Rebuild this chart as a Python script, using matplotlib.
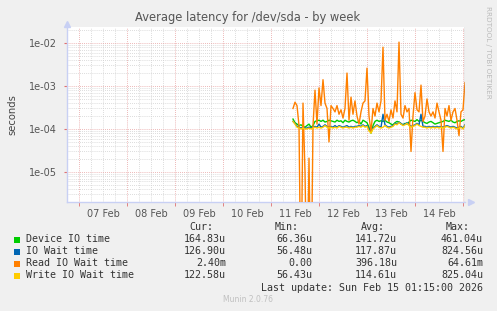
import numpy as np
import matplotlib
matplotlib.use("Agg")
from matplotlib import pyplot as plt
from matplotlib.ticker import FixedLocator, FuncFormatter, NullLocator

# hours since 07 Feb 00:00, one sample per hour (11 Feb 11:00 .. 15 Feb 01:00)
hours = np.arange(107, 194)

device_io = [
    1.7e-4, 1.4e-4, 1.3e-4, 1.2e-4, 1.25e-4, 1.15e-4, 1.1e-4, 1.2e-4, 1.3e-4, 1.1e-4,
    1.2e-4, 1.5e-4, 1.55e-4, 1.6e-4, 1.5e-4, 1.6e-4, 1.45e-4, 1.5e-4, 1.6e-4, 1.55e-4,
    1.5e-4, 1.45e-4, 1.6e-4, 1.5e-4, 1.55e-4, 1.4e-4, 1.6e-4, 1.5e-4, 1.45e-4, 1.55e-4,
    1.6e-4, 1.5e-4, 1.4e-4, 1.5e-4, 1.3e-4, 1.6e-4, 1.5e-4, 1.4e-4, 1.1e-4, 8e-5,
    1.2e-4, 1.5e-4, 1.6e-4, 1.5e-4, 1.55e-4, 1.5e-4, 1.6e-4, 1.45e-4, 1.4e-4, 1.3e-4,
    1.25e-4, 1.4e-4, 1.5e-4, 1.45e-4, 1.3e-4, 1.25e-4, 1.35e-4, 1.3e-4, 1.45e-4, 1.6e-4,
    1.55e-4, 1.5e-4, 1.65e-4, 1.5e-4, 1.6e-4, 1.5e-4, 1.4e-4, 1.35e-4, 1.45e-4, 1.5e-4,
    1.4e-4, 1.3e-4, 1.35e-4, 1.4e-4, 1.45e-4, 1.5e-4, 1.6e-4, 1.55e-4, 1.5e-4, 1.6e-4,
    1.45e-4, 1.4e-4, 1.5e-4, 1.55e-4, 1.5e-4, 1.6e-4, 1.65e-4,
]

io_wait = [
    1.5e-4, 1.35e-4, 1.15e-4, 1.1e-4, 1.05e-4, 1.1e-4, 1.05e-4, 1.05e-4, 1.1e-4, 1.05e-4,
    1.1e-4, 1.15e-4, 1.1e-4, 1.3e-4, 1.1e-4, 1.15e-4, 1.25e-4, 1.15e-4, 1.1e-4, 1.15e-4,
    1.1e-4, 1.2e-4, 1.1e-4, 1.2e-4, 1.15e-4, 1.1e-4, 1.15e-4, 1.2e-4, 1.1e-4, 1.15e-4,
    1.1e-4, 1.15e-4, 1.15e-4, 1.2e-4, 1.15e-4, 1.25e-4, 1.15e-4, 1.2e-4, 1.0e-4, 9e-5,
    1.05e-4, 1.15e-4, 1.25e-4, 1.15e-4, 1.1e-4, 2.2e-4, 1.25e-4, 1.15e-4, 1.1e-4, 1.15e-4,
    1.2e-4, 1.35e-4, 1.3e-4, 1.45e-4, 1.35e-4, 1.25e-4, 1.3e-4, 1.4e-4, 1.25e-4, 1.15e-4,
    1.2e-4, 1.25e-4, 1.35e-4, 1.25e-4, 2.2e-4, 1.15e-4, 1.15e-4, 1.1e-4, 1.15e-4, 1.1e-4,
    1.15e-4, 1.1e-4, 1.15e-4, 1.1e-4, 1.15e-4, 1.1e-4, 1.15e-4, 1.2e-4, 1.15e-4, 1.1e-4,
    1.15e-4, 1.1e-4, 1.05e-4, 1.1e-4, 1.15e-4, 1.05e-4, 1.25e-4,
]

read_io_wait = [
    3.0e-4, 4.2e-4, 3.5e-4, 1.2e-4, 0.0, 4.0e-4, 1.0e-5, 0.0, 2.1e-5, 0.0,
    1.2e-4, 8e-4, 1.3e-4, 9e-4, 3.5e-4, 1.4e-3, 4.0e-4, 3.0e-4, 5e-5, 3.5e-4,
    3.0e-4, 2.5e-4, 3.5e-4, 2.2e-4, 2.8e-4, 1.8e-4, 3.0e-4, 2.0e-3, 1.6e-4, 5.5e-4,
    2.2e-4, 4.5e-4, 2.0e-4, 1.3e-4, 2.5e-4, 4.0e-4, 4.5e-4, 2.6e-3, 2.0e-4, 8.5e-5,
    3.0e-4, 2.0e-4, 4.0e-4, 2.5e-4, 4.5e-4, 8e-3, 1.6e-4, 2.2e-4, 1.5e-4, 2.8e-4,
    1.8e-4, 4.5e-4, 2.5e-4, 1.05e-2, 2.2e-4, 1.8e-4, 3.5e-4, 2.5e-4, 3.0e-4, 3.0e-5,
    2.0e-4, 7e-4, 2.8e-4, 2.5e-4, 1.05e-3, 1.5e-4, 2.0e-4, 5e-4, 2.5e-4, 2.0e-4,
    2.5e-4, 1.8e-4, 4.0e-4, 2.5e-4, 1.6e-4, 3.0e-5, 3.0e-4, 2.0e-4, 3.5e-4, 1.6e-4,
    2.5e-4, 3.0e-4, 1.6e-4, 7e-5, 2.5e-4, 2.8e-4, 1.2e-3,
]

write_io_wait = [
    1.5e-4, 1.3e-4, 1.1e-4, 1.05e-4, 1.0e-4, 1.05e-4, 1.0e-4, 1.0e-4, 1.05e-4, 1.0e-4,
    1.05e-4, 1.1e-4, 1.05e-4, 1.1e-4, 1.05e-4, 1.1e-4, 1.2e-4, 1.1e-4, 1.05e-4, 1.1e-4,
    1.05e-4, 1.1e-4, 1.05e-4, 1.15e-4, 1.1e-4, 1.05e-4, 1.1e-4, 1.1e-4, 1.05e-4, 1.1e-4,
    1.05e-4, 1.1e-4, 1.1e-4, 1.15e-4, 1.1e-4, 1.2e-4, 1.1e-4, 1.15e-4, 9e-5, 8e-5,
    1.0e-4, 1.1e-4, 1.2e-4, 1.1e-4, 1.05e-4, 1.1e-4, 1.2e-4, 1.1e-4, 1.05e-4, 1.1e-4,
    1.15e-4, 1.3e-4, 1.25e-4, 1.4e-4, 1.3e-4, 1.2e-4, 1.25e-4, 1.35e-4, 1.2e-4, 1.1e-4,
    1.15e-4, 1.2e-4, 1.3e-4, 1.2e-4, 1.15e-4, 1.1e-4, 1.1e-4, 1.05e-4, 1.1e-4, 1.05e-4,
    1.1e-4, 1.05e-4, 1.1e-4, 1.05e-4, 1.1e-4, 1.05e-4, 1.1e-4, 1.15e-4, 1.1e-4, 1.05e-4,
    1.1e-4, 1.05e-4, 1.0e-4, 1.05e-4, 1.1e-4, 1.0e-4, 1.2e-4,
]

day_labels = ["07 Feb", "08 Feb", "09 Feb", "10 Feb", "11 Feb", "12 Feb", "13 Feb", "14 Feb"]

legend_names = ["Device IO time", "IO Wait time", "Read IO Wait time", "Write IO Wait time"]
legend_colors = ["#00CC00", "#0066B3", "#FF8000", "#FFCC00"]
legend_cur = ["164.83u", "126.90u", "2.40m", "122.58u"]
legend_min = ["66.36u", "56.48u", "0.00", "56.43u"]
legend_avg = ["141.72u", "117.87u", "396.18u", "114.61u"]
legend_max = ["461.04u", "824.56u", "64.61m", "825.04u"]

series = [device_io, io_wait, read_io_wait, write_io_wait]

W, H = 497, 311
fig = plt.figure(figsize=(W / 100, H / 100), dpi=100, facecolor="#F0F0F0")
ax = fig.add_axes([67 / W, 1 - 202 / H, (465 - 67) / W, (202 - 27) / H])
ax.set_facecolor("white")

ax.set_yscale("log")
ax.set_xlim(-6, 193)
ax.set_ylim(2.0e-6, 2.36e-2)

# grid, rrdtool style
grid_gray = "#D0D0D0"
grid_red = "#E8A0A0"
dots = (0, (1, 1.5))
for h in range(-6, 194, 6):
    if h % 24 != 0:
        ax.axvline(h, color=grid_gray, lw=0.6, ls=dots, zorder=1)
for dec in [1e-6, 1e-5, 1e-4, 1e-3, 1e-2]:
    for m in range(2, 10):
        ax.axhline(dec * m, color=grid_gray, lw=0.6, ls=dots, zorder=1)
for h in range(0, 193, 24):
    ax.axvline(h, color=grid_red, lw=0.6, ls=dots, zorder=1)
for dec in [1e-5, 1e-4, 1e-3, 1e-2]:
    ax.axhline(dec, color=grid_red, lw=0.6, ls=dots, zorder=1)

for vals, col in zip(series, legend_colors):
    v = np.clip(np.array(vals), 1e-8, None)
    ax.plot(hours, v, color=col, lw=1.0, zorder=3)

# right edge marker line
ax.axvline(193, color="#999999", lw=1.0, zorder=4)

# ticks
ax.xaxis.set_major_locator(FixedLocator([12 + 24 * i for i in range(len(day_labels))]))
ax.set_xticklabels(day_labels)
ax.xaxis.set_minor_locator(FixedLocator(list(range(0, 193, 24))))
ax.yaxis.set_major_locator(FixedLocator([1e-5, 1e-4, 1e-3, 1e-2]))
ax.yaxis.set_major_formatter(FuncFormatter(lambda v, p: "%.0e" % v))
ax.yaxis.set_minor_locator(NullLocator())
ax.tick_params(axis="x", which="major", length=0, labelsize=7, colors="#555555", pad=5)
ax.tick_params(axis="x", which="minor", length=3, color="#E07070", direction="out")
ax.tick_params(axis="y", which="major", length=2, color="#E07070", labelsize=7,
               labelcolor="#555555", pad=5)

for s in ["top", "right"]:
    ax.spines[s].set_visible(False)
for s in ["left", "bottom"]:
    ax.spines[s].set_color("#C8D0F4")
    ax.spines[s].set_linewidth(1.0)

# axis arrows
ax.plot([0], [1.015], marker="^", color="#C8D0F4", ms=4, transform=ax.transAxes, clip_on=False)
ax.plot([1.015], [0], marker=">", color="#C8D0F4", ms=4, transform=ax.transAxes, clip_on=False)

fig.text(248 / W, 1 - 18 / H, "Average latency for /dev/sda - by week",
         ha="center", va="center", fontsize=8.3, color="#555555")
fig.text(12 / W, 1 - 115 / H, "seconds", rotation=90, ha="center", va="center",
         fontsize=7.2, color="#444444")
fig.text(488 / W, 1 - 6 / H, "RRDTOOL / TOBI OETIKER", rotation=270, ha="center", va="top",
         fontsize=5.2, color="#BBBBBB")

# legend table
mono = "DejaVu Sans Mono"
lsize = 7.2
tcol = "#333333"
hy = 227
fig.text(213 / W, 1 - hy / H, "Cur:", ha="right", va="center", family=mono, fontsize=lsize, color=tcol)
fig.text(299 / W, 1 - hy / H, "Min:", ha="right", va="center", family=mono, fontsize=lsize, color=tcol)
fig.text(385 / W, 1 - hy / H, "Avg:", ha="right", va="center", family=mono, fontsize=lsize, color=tcol)
fig.text(470 / W, 1 - hy / H, "Max:", ha="right", va="center", family=mono, fontsize=lsize, color=tcol)
for i, name in enumerate(legend_names):
    y = 1 - (239.5 + 12 * i) / H
    fig.patches.append(plt.Rectangle((14 / W, y - 3 / H), 6 / W, 6 / H, transform=fig.transFigure,
                                     facecolor=legend_colors[i], edgecolor="none"))
    fig.text(26 / W, y, name, ha="left", va="center", family=mono, fontsize=lsize, color=tcol)
    fig.text(226 / W, y, legend_cur[i], ha="right", va="center", family=mono, fontsize=lsize, color=tcol)
    fig.text(312 / W, y, legend_min[i], ha="right", va="center", family=mono, fontsize=lsize, color=tcol)
    fig.text(397 / W, y, legend_avg[i], ha="right", va="center", family=mono, fontsize=lsize, color=tcol)
    fig.text(483 / W, y, legend_max[i], ha="right", va="center", family=mono, fontsize=lsize, color=tcol)
fig.text(483 / W, 1 - 288 / H, "Last update: Sun Feb 15 01:15:00 2026", ha="right", va="center",
         family=mono, fontsize=lsize, color=tcol)
fig.text(248 / W, 1 - 300 / H, "Munin 2.0.76", ha="center", va="center", fontsize=5.5, color="#C0C0C0")

fig.savefig("out.png", dpi=100, facecolor=fig.get_facecolor())
